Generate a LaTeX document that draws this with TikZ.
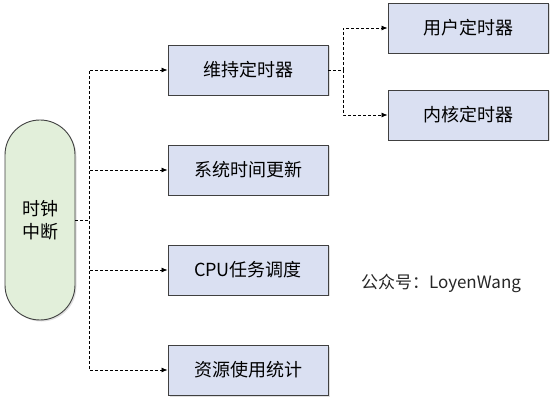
\documentclass[tikz,border=0pt]{standalone}
\usepackage{fontspec}
\setmainfont{Noto Sans CJK SC}
\usetikzlibrary{arrows.meta,shadows}

\definecolor{boxblue}{HTML}{DAE0F2}
\definecolor{pillgreen}{HTML}{E2EFDA}
\definecolor{edgegray}{HTML}{404040}

\tikzset{
  task/.style={draw=edgegray, line width=0.9pt, fill=boxblue, minimum width=160pt, minimum height=50pt,
    inner sep=0pt, font=\fontsize{18}{21}\selectfont,
    drop shadow={shadow xshift=1.5pt, shadow yshift=-1.5pt, opacity=0.25}},
  pill/.style={draw=edgegray, line width=0.9pt, fill=pillgreen, minimum width=70pt, minimum height=200pt,
    rounded corners=35pt, inner sep=0pt, align=center, font=\fontsize{18}{23}\selectfont,
    drop shadow={shadow xshift=1.5pt, shadow yshift=-1.5pt, opacity=0.25}},
  link/.style={line width=0.8pt, dash pattern=on 3pt off 2pt, -{Latex[length=6pt,width=5pt]}}
}

\begin{document}
\begin{tikzpicture}[x=1pt,y=-1pt]

\useasboundingbox (0,0) rectangle (554,403);

\coordinate (CLK) at (40,220);
\coordinate (MT) at (248,70);
\coordinate (ST) at (248,170);
\coordinate (SC) at (248,270);
\coordinate (RS) at (248,370);
\coordinate (UT) at (468,28);
\coordinate (KT) at (468,115);
\coordinate (WM) at (441,283);

\node [pill] (clk) at (CLK) {时钟\\中断};
\node [task] (maint) at (MT) {维持定时器};
\node [task] (systime) at (ST) {系统时间更新};
\node [task] (sched) at (SC) {CPU任务调度};
\node [task] (stat) at (RS) {资源使用统计};
\node [task] (user) at (UT) {用户定时器};
\node [task] (kern) at (KT) {内核定时器};

\node [font=\fontsize{17}{20}\selectfont, text=black!85] (wm) at (WM) {公众号：LoyenWang};

\draw [link] (clk.east) -- ++(14,0) |- (maint.west);
\draw [link] (clk.east) -- ++(14,0) |- (systime.west);
\draw [link] (clk.east) -- ++(14,0) |- (sched.west);
\draw [link] (clk.east) -- ++(14,0) |- (stat.west);
\draw [link] (maint.east) -- ++(15,0) |- (user.west);
\draw [link] (maint.east) -- ++(15,0) |- (kern.west);

\end{tikzpicture}
\end{document}
